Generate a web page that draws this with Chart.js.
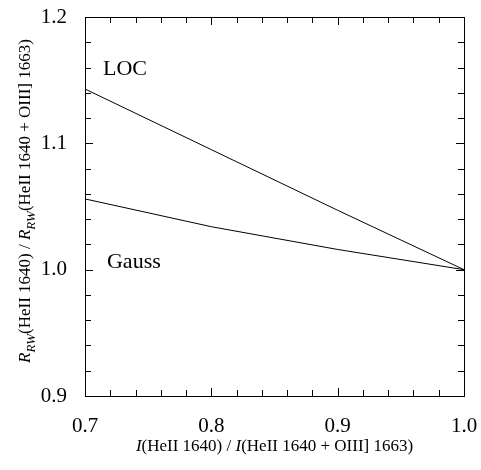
<!DOCTYPE html>
<html>
<head>
<meta charset="utf-8">
<script src="https://cdn.jsdelivr.net/npm/chart.js@4.4.0/dist/chart.umd.min.js"></script>
<style>
  html, body { margin: 0; padding: 0; background: #fff; }
  #wrap { width: 481px; height: 470px; }
</style>
</head>
<body>
<div id="wrap"><canvas id="c" width="481" height="470"></canvas></div>
<script>
// values
const xLOC = [0.7, 0.8, 0.9, 1.0];
const yLOC = [1.143, 1.095, 1.047, 1.0];
const xGauss = [0.7, 0.8, 0.9, 1.0];
const yGauss = [1.056, 1.034, 1.016, 1.0];
const xRange = [0.7, 1.0];
const yRange = [0.9, 1.2];
const tickStep = 0.02;
const seriesLabels = [
  { text: 'LOC', x: 0.7142, y: 1.159 },
  { text: 'Gauss', x: 0.7174, y: 1.006 },
];

const FONT = '"Liberation Serif", "Times New Roman", serif';

function isMajor(v) {
  return Math.abs(v * 10 - Math.round(v * 10)) < 1e-6;
}

// mixed-style text: runs of [text, italic, subscript]
const xTitle = [['I', true, false], ['(HeII 1640) / ', false, false], ['I', true, false], ['(HeII 1640 + OIII] 1663)', false, false]];
const yTitle = [['R', true, false], ['RW', true, true], ['(HeII 1640) / ', false, false],
  ['R', true, false], ['RW', true, true], ['(HeII 1640 + OIII] 1663)', false, false]];

function runFont(r, size) {
  const s = r[2] ? Math.round(size * 0.75) : size;
  return (r[1] ? 'italic ' : '') + s + 'px ' + FONT;
}

function drawRuns(ctx, runs, cx, cy, size) {
  let w = 0;
  runs.forEach(r => { ctx.font = runFont(r, size); w += ctx.measureText(r[0]).width; });
  let x = cx - w / 2;
  ctx.textBaseline = 'alphabetic';
  ctx.textAlign = 'left';
  runs.forEach(r => {
    ctx.font = runFont(r, size);
    ctx.fillText(r[0], x, cy + (r[2] ? size * 0.3 : 0));
    x += ctx.measureText(r[0]).width;
  });
}

const framePlugin = {
  id: 'frame',
  afterDraw(chart) {
    const { ctx, chartArea: a, scales } = chart;
    ctx.save();
    ctx.strokeStyle = '#000';
    ctx.lineWidth = 1;
    ctx.strokeRect(Math.round(a.left) + 0.5, Math.round(a.top) + 0.5,
      Math.round(a.right - a.left), Math.round(a.bottom - a.top));
    ctx.beginPath();
    scales.x.ticks.forEach(t => {
      const px = Math.round(scales.x.getPixelForValue(t.value)) + 0.5;
      const len = isMajor(t.value) ? 8 : 6;
      ctx.moveTo(px, a.bottom); ctx.lineTo(px, a.bottom - len);
      ctx.moveTo(px, a.top); ctx.lineTo(px, a.top + len);
    });
    scales.y.ticks.forEach(t => {
      const py = Math.round(scales.y.getPixelForValue(t.value)) + 0.5;
      const len = isMajor(t.value) ? 8 : 6;
      ctx.moveTo(a.left, py); ctx.lineTo(a.left + len, py);
      ctx.moveTo(a.right, py); ctx.lineTo(a.right - len, py);
    });
    ctx.stroke();

    ctx.fillStyle = '#000';
    seriesLabels.forEach(l => {
      ctx.font = '22px ' + FONT;
      ctx.textAlign = 'left';
      ctx.textBaseline = 'middle';
      ctx.fillText(l.text, scales.x.getPixelForValue(l.x), scales.y.getPixelForValue(l.y));
    });

    drawRuns(ctx, xTitle, (a.left + a.right) / 2, 451, 17);
    ctx.translate(30, 201);
    ctx.rotate(-Math.PI / 2);
    drawRuns(ctx, yTitle, 0, 0, 17);
    ctx.restore();
  }
};

const tickFont = { family: FONT, size: 21 };

new Chart(document.getElementById('c'), {
  type: 'scatter',
  data: {
    datasets: [
      {
        label: 'LOC',
        data: xLOC.map((x, i) => ({ x, y: yLOC[i] })),
        showLine: true,
        borderColor: '#000',
        borderWidth: 1,
        pointRadius: 0,
        tension: 0,
      },
      {
        label: 'Gauss',
        data: xGauss.map((x, i) => ({ x, y: yGauss[i] })),
        showLine: true,
        borderColor: '#000',
        borderWidth: 1,
        pointRadius: 0,
        tension: 0,
      },
    ],
  },
  options: {
    responsive: false,
    animation: false,
    layout: { padding: { top: 17, right: 17, left: 0, bottom: 0 } },
    plugins: { legend: { display: false }, tooltip: { enabled: false } },
    scales: {
      x: {
        type: 'linear',
        min: xRange[0],
        max: xRange[1],
        grid: { display: false },
        border: { display: false },
        afterFit: (s) => { s.height = 74; s.paddingLeft = 0; s.paddingRight = 0; },
        ticks: {
          stepSize: tickStep,
          autoSkip: false,
          maxRotation: 0,
          padding: 10,
          color: '#000',
          font: tickFont,
          callback: (v) => isMajor(v) ? v.toFixed(1) : '',
        },
      },
      y: {
        type: 'linear',
        min: yRange[0],
        max: yRange[1],
        grid: { display: false },
        border: { display: false },
        afterFit: (s) => { s.width = 85; s.paddingTop = 0; s.paddingBottom = 0; },
        ticks: {
          stepSize: tickStep,
          autoSkip: false,
          padding: 10,
          color: '#000',
          font: tickFont,
          callback: (v) => isMajor(v) ? v.toFixed(1) : '',
        },
      },
    },
  },
  plugins: [framePlugin],
});
</script>
</body>
</html>
